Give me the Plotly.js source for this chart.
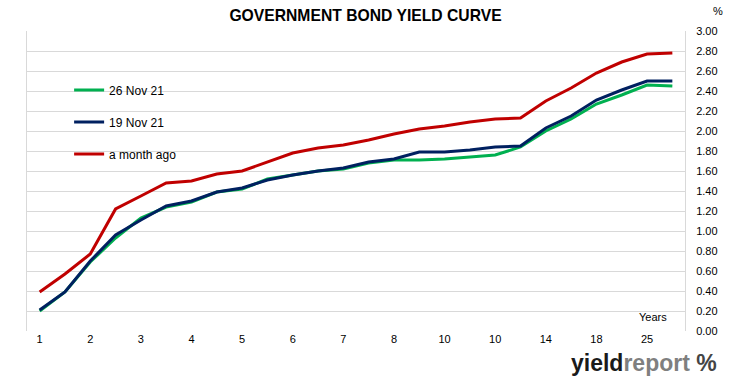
<!DOCTYPE html>
<html>
<head>
<meta charset="utf-8">
<script src="https://cdn.plot.ly/plotly-3.0.1.min.js"></script>
<style>html,body{margin:0;padding:0;background:#fff;}#chart{width:731px;height:381px;}</style>
</head>
<body>
<div id="chart"></div>
<script>
// Tick labels shown under every second point (maturity in years)
const tickLabels = ['1','2','3','4','5','6','7','8','10','10','14','18','25'];
// Point index along the curve (26 points, labels on every second one)
const pointIndex = [0,1,2,3,4,5,6,7,8,9,10,11,12,13,14,15,16,17,18,19,20,21,22,23,24,25];

const nov26 = [0.20,0.39,0.69,0.93,1.13,1.24,1.29,1.39,1.42,1.52,1.56,1.60,1.62,1.68,1.71,1.71,1.72,1.74,1.76,1.84,2.00,2.12,2.27,2.36,2.46,2.45];
const nov19 = [0.21,0.39,0.70,0.96,1.11,1.25,1.30,1.39,1.43,1.51,1.56,1.60,1.63,1.69,1.72,1.79,1.79,1.81,1.84,1.85,2.03,2.15,2.31,2.41,2.50,2.50];
const monthAgo = [0.39,0.57,0.77,1.22,1.35,1.48,1.50,1.57,1.60,1.69,1.78,1.83,1.86,1.91,1.97,2.02,2.05,2.09,2.12,2.13,2.30,2.43,2.58,2.69,2.77,2.78];

const seriesNames = ['26 Nov 21','19 Nov 21','a month ago'];
const seriesColors = ['#00B050','#002060','#C00000'];
const seriesData = [nov26, nov19, monthAgo];

const tickVals = tickLabels.map((_, i) => pointIndex[i * 2]);

const FONT = 'Liberation Sans, Arial, sans-serif';

const traces = seriesData.map((vals, k) => ({
  type: 'scatter',
  mode: 'lines',
  x: pointIndex,
  y: vals,
  name: seriesNames[k],
  legendgroup: 'g' + k,
  line: {color: seriesColors[k], width: 3},
  hoverinfo: 'x+y'
}));

const layout = {
  width: 731,
  height: 381,
  margin: {l: 27, r: 46, t: 31, b: 50},
  paper_bgcolor: '#ffffff',
  plot_bgcolor: '#ffffff',
  font: {family: FONT, size: 11, color: '#404040'},
  title: {
    text: '<b>GOVERNMENT BOND YIELD CURVE</b>',
    font: {family: FONT, size: 15.7, color: '#000000'},
    x: 0.5, xref: 'container', y: 0.96, yref: 'container', xanchor: 'center', yanchor: 'middle'
  },
  showlegend: true,
  legend: {
    x: 0.064, y: 0.852, xanchor: 'left', yanchor: 'top',
    bgcolor: 'rgba(0,0,0,0)',
    font: {family: FONT, size: 12, color: '#000000'},
    tracegroupgap: 13,
    traceorder: 'grouped'
  },
  xaxis: {
    range: [-0.5, 25.5],
    tickmode: 'array',
    tickvals: tickVals,
    ticktext: tickLabels,
    showgrid: false,
    zeroline: false,
    showline: false,
    ticks: '',
    tickfont: {family: FONT, size: 11, color: '#000000'},
    fixedrange: true
  },
  yaxis: {
    side: 'right',
    range: [0, 3],
    dtick: 0.2,
    tick0: 0,
    tickformat: '.2f',
    showgrid: true,
    gridcolor: '#d9d9d9',
    gridwidth: 1,
    zeroline: false,
    showline: true,
    linecolor: '#d9d9d9',
    mirror: true,
    ticks: '',
    ticklabelstandoff: 8,
    tickfont: {family: FONT, size: 11, color: '#000000'},
    fixedrange: true
  },
  annotations: [
    {text: '%', xref: 'paper', yref: 'paper', x: 1.04, y: 1.04, xanchor: 'left', yanchor: 'bottom',
     showarrow: false, font: {family: FONT, size: 11, color: '#000000'}},
    {text: 'Years', xref: 'paper', yref: 'paper', x: 0.975, y: 0.02, xanchor: 'right', yanchor: 'bottom',
     showarrow: false, font: {family: FONT, size: 11, color: '#000000'}},
    {text: '<b><span style="color:#1a1a1a">yield</span><span style="color:#7f7f7f">report</span><span style="color:#444"> %</span></b>',
     xref: 'paper', yref: 'paper', x: 1.052, y: -0.107, xanchor: 'right', yanchor: 'middle',
     showarrow: false, font: {family: FONT, size: 23, color: '#1a1a1a'}}
  ]
};

Plotly.newPlot('chart', traces, layout, {displayModeBar: false, staticPlot: true});
</script>
</body>
</html>
